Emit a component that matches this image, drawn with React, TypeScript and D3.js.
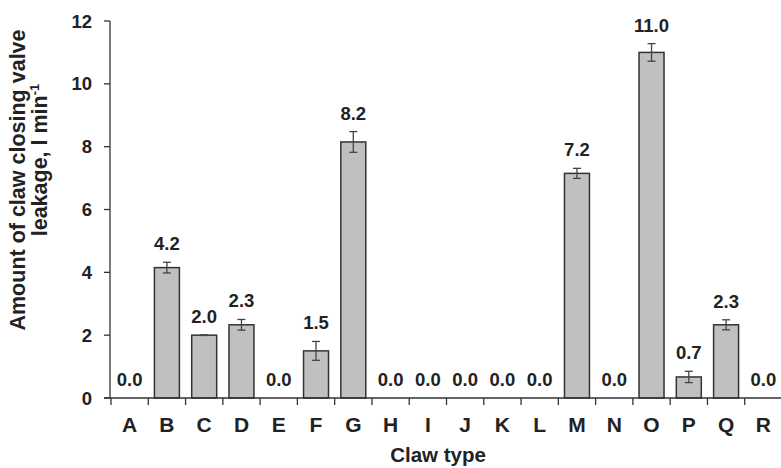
import React, { useEffect, useRef } from "react";
import * as d3 from "d3";

const categories = ["A", "B", "C", "D", "E", "F", "G", "H", "I", "J", "K", "L", "M", "N", "O", "P", "Q", "R"];
const values = [0, 4.15, 2.0, 2.33, 0, 1.5, 8.15, 0, 0, 0, 0, 0, 7.15, 0, 11.0, 0.67, 2.33, 0];
const errors = [0, 0.17, 0.01, 0.17, 0, 0.3, 0.33, 0, 0, 0, 0, 0, 0.16, 0, 0.28, 0.18, 0.16, 0];
const labels = ["0.0", "4.2", "2.0", "2.3", "0.0", "1.5", "8.2", "0.0", "0.0", "0.0", "0.0", "0.0", "7.2", "0.0", "11.0", "0.7", "2.3", "0.0"];
const yTicks = [0, 2, 4, 6, 8, 10, 12];

const FONT = "'Liberation Sans', Arial, sans-serif";

const App = () => {
  const ref = useRef<SVGSVGElement>(null);

  useEffect(() => {
    const svg = d3.select(ref.current);
    svg.selectAll("*").remove();

    const width = 781, height = 468;
    const left = 110, right = 782, top = 21, bottom = 398;

    const x = d3.scaleBand().domain(categories).range([left + 1, right]).paddingInner(0.33).paddingOuter(0.165);
    const xb = d3.scaleBand().domain(categories).range([left + 1, right]);
    const y = d3.scaleLinear().domain([0, 12]).range([bottom, top]);

    svg.attr("width", width).attr("height", height);
    const g = svg.append("g").attr("font-family", FONT).attr("font-weight", "bold");

    const rows = categories.map((c, i) => ({ c, v: values[i], e: errors[i], label: labels[i] }));

    // bars
    g.selectAll("rect.bar")
      .data(rows.filter((d) => d.v > 0))
      .join("rect")
      .attr("class", "bar")
      .attr("x", (d) => x(d.c)!)
      .attr("y", (d) => y(d.v))
      .attr("width", x.bandwidth())
      .attr("height", (d) => y(0) - y(d.v))
      .attr("fill", "#c0c0c0")
      .attr("stroke", "#333")
      .attr("stroke-width", 1.5);

    // error bars
    rows.filter((d) => d.v > 0).forEach((d) => {
      const cx = x(d.c)! + x.bandwidth() / 2;
      const eg = g.append("g").attr("stroke", "#444").attr("stroke-width", 1.3);
      eg.append("line").attr("x1", cx).attr("x2", cx).attr("y1", y(d.v + d.e)).attr("y2", y(d.v - d.e));
      eg.append("line").attr("x1", cx - 4).attr("x2", cx + 4).attr("y1", y(d.v + d.e)).attr("y2", y(d.v + d.e));
      eg.append("line").attr("x1", cx - 4).attr("x2", cx + 4).attr("y1", y(d.v - d.e)).attr("y2", y(d.v - d.e));
    });

    // value labels
    g.selectAll("text.val")
      .data(rows)
      .join("text")
      .attr("class", "val")
      .attr("x", (d) => x(d.c)! + x.bandwidth() / 2)
      .attr("y", (d) => y(d.v + d.e) - 12)
      .attr("text-anchor", "middle")
      .attr("font-size", 18.5)
      .attr("fill", "#222")
      .text((d) => d.label);

    // y axis
    g.append("line").attr("x1", left).attr("x2", left).attr("y1", top).attr("y2", bottom).attr("stroke", "#333").attr("stroke-width", 1.3);
    g.selectAll("line.ytick")
      .data(yTicks)
      .join("line")
      .attr("class", "ytick")
      .attr("x1", left - 6).attr("x2", left)
      .attr("y1", (d) => y(d)).attr("y2", (d) => y(d))
      .attr("stroke", "#333").attr("stroke-width", 1.3);
    g.selectAll("text.ytick")
      .data(yTicks)
      .join("text")
      .attr("class", "ytick")
      .attr("x", left - 18)
      .attr("y", (d) => y(d))
      .attr("dy", "0.36em")
      .attr("text-anchor", "end")
      .attr("font-size", 18.5)
      .attr("fill", "#222")
      .text((d) => d);

    // x axis
    g.append("line").attr("x1", left - 6).attr("x2", right).attr("y1", bottom).attr("y2", bottom).attr("stroke", "#333").attr("stroke-width", 1.3);
    g.selectAll("line.xtick")
      .data(categories)
      .join("line")
      .attr("class", "xtick")
      .attr("x1", (d) => xb(d)!).attr("x2", (d) => xb(d)!)
      .attr("y1", bottom).attr("y2", bottom + 7)
      .attr("stroke", "#333").attr("stroke-width", 1.3);
    g.selectAll("text.xcat")
      .data(categories)
      .join("text")
      .attr("class", "xcat")
      .attr("x", (d) => xb(d)! + xb.bandwidth() / 2)
      .attr("y", 432)
      .attr("text-anchor", "middle")
      .attr("font-size", 21)
      .attr("fill", "#222")
      .text((d) => d);

    g.append("text")
      .attr("x", 438)
      .attr("y", 462)
      .attr("text-anchor", "middle")
      .attr("font-size", 20.5)
      .attr("fill", "#222")
      .text("Claw type");

    g.append("text")
      .attr("transform", "translate(25,180) rotate(-90)")
      .attr("text-anchor", "middle")
      .attr("font-size", 21.5)
      .attr("fill", "#222")
      .text("Amount of claw closing valve");

    const t2 = g.append("text")
      .attr("transform", "translate(47,160) rotate(-90)")
      .attr("text-anchor", "middle")
      .attr("font-size", 21.5)
      .attr("fill", "#222");
    t2.append("tspan").text("leakage, l min");
    t2.append("tspan").attr("font-size", 13).attr("dy", -8).text("-1");
  }, []);

  return <svg ref={ref} style={{ position: "absolute", left: 0, top: 0 }} />;
};

export default App;
